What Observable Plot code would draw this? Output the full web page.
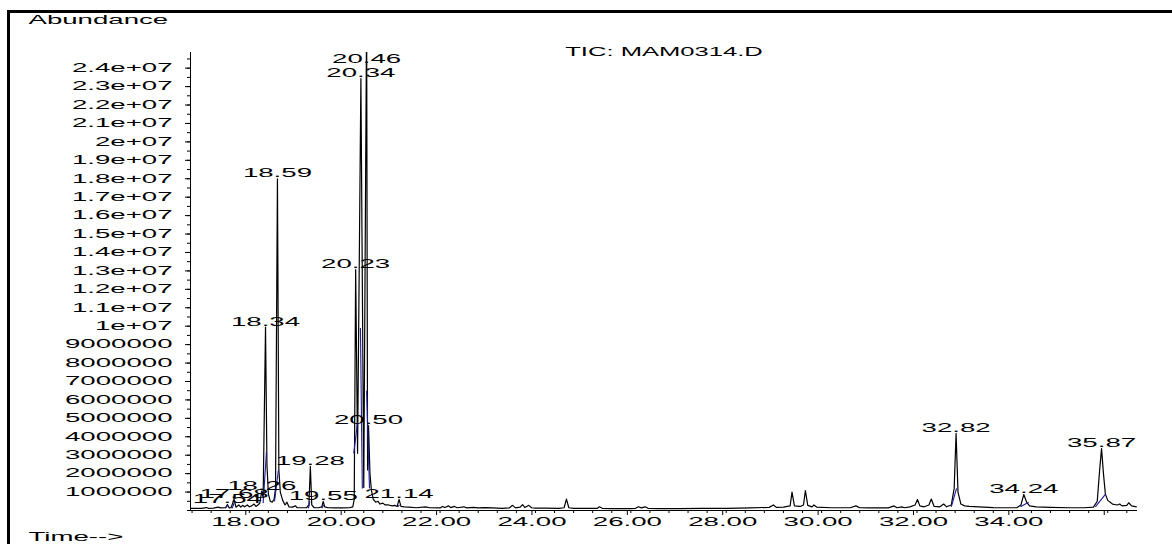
<!DOCTYPE html>
<html><head><meta charset="utf-8">
<script src="https://cdn.jsdelivr.net/npm/d3@7"></script>
<script src="https://cdn.jsdelivr.net/npm/@observablehq/plot@0.6"></script>
<style>
html,body{margin:0;padding:0;background:#fff;width:1172px;height:544px;overflow:hidden;}
#wrap{position:relative;width:1172px;height:544px;}
#chart{position:absolute;left:0;top:0;}
#border{position:absolute;left:6.5px;top:9.5px;width:1180px;height:560px;border-top:3px solid #000;border-left:3px solid #000;box-sizing:border-box;pointer-events:none;}
</style></head><body>
<div id="wrap"><div id="chart"></div><div id="border"></div></div>
<script>
// ---- Data (time in min, abundance in counts) ----
const time = [16.77,17.00,17.10,17.14,17.25,17.35,17.40,17.50,17.54,17.58,17.62,17.68,17.72,17.78,17.82,17.86,17.90,17.96,18.00,18.05,18.10,18.14,18.18,18.22,18.26,18.29,18.34,18.37,18.40,18.44,18.48,18.52,18.55,18.59,18.62,18.65,18.70,18.75,18.79,18.83,18.90,18.97,19.00,19.10,19.20,19.25,19.28,19.31,19.36,19.45,19.52,19.55,19.58,19.65,19.80,19.95,20.10,20.17,20.20,20.23,20.27,20.34,20.40,20.46,20.48,20.50,20.53,20.56,20.60,20.65,20.70,20.74,20.80,20.85,20.92,21.00,21.05,21.10,21.14,21.18,21.25,21.35,21.50,21.70,21.78,22.00,22.05,22.10,22.18,22.22,22.30,22.36,22.50,22.56,22.70,22.80,22.95,23.10,23.30,23.45,23.52,23.58,23.68,23.73,23.78,23.86,23.92,24.00,24.20,24.50,24.60,24.65,24.70,24.80,25.30,25.34,25.40,25.60,26.00,26.10,26.16,26.22,26.30,26.36,26.60,27.00,27.50,28.00,28.50,28.90,28.99,29.05,29.20,29.34,29.38,29.43,29.55,29.62,29.66,29.71,29.80,29.84,29.90,30.20,30.60,30.72,30.80,31.00,31.40,31.52,31.58,31.68,31.74,31.85,31.96,32.01,32.06,32.15,32.25,32.30,32.36,32.48,32.56,32.62,32.72,32.78,32.82,32.86,32.92,33.00,33.10,33.30,33.60,33.90,34.10,34.18,34.24,34.30,34.36,34.50,34.80,35.20,35.50,35.70,35.78,35.83,35.87,35.91,35.95,36.00,36.10,36.20,36.25,36.30,36.40,36.44,36.50,36.60];
const abundance = [0.12e6,0.12e6,0.16e6,0.12e6,0.13e6,0.18e6,0.14e6,0.15e6,0.32e6,0.14e6,0.16e6,0.62e6,0.18e6,0.30e6,0.18e6,0.28e6,0.20e6,0.30e6,0.20e6,0.25e6,0.35e6,0.22e6,0.30e6,0.40e6,1.05e6,0.70e6,9.95e6,2.5e6,0.9e6,0.5e6,0.45e6,0.6e6,1.2e6,18.0e6,2.2e6,1.0e6,0.55e6,0.3e6,0.45e6,0.2e6,0.18e6,0.25e6,0.16e6,0.15e6,0.15e6,0.3e6,2.39e6,0.3e6,0.15e6,0.15e6,0.2e6,0.5e6,0.2e6,0.15e6,0.14e6,0.14e6,0.15e6,0.2e6,0.6e6,13.07e6,3.1e6,23.44e6,1.25e6,27.0e6,2.2e6,4.6e6,2.0e6,1.1e6,0.6e6,0.45e6,0.5e6,0.35e6,0.4e6,0.3e6,0.3e6,0.25e6,0.28e6,0.22e6,0.6e6,0.22e6,0.2e6,0.18e6,0.15e6,0.2e6,0.15e6,0.14e6,0.22e6,0.16e6,0.25e6,0.16e6,0.22e6,0.15e6,0.2e6,0.14e6,0.17e6,0.14e6,0.16e6,0.14e6,0.12e6,0.14e6,0.28e6,0.14e6,0.18e6,0.32e6,0.16e6,0.28e6,0.15e6,0.13e6,0.13e6,0.12e6,0.15e6,0.62e6,0.15e6,0.12e6,0.12e6,0.2e6,0.12e6,0.1e6,0.1e6,0.12e6,0.2e6,0.14e6,0.2e6,0.12e6,0.1e6,0.1e6,0.11e6,0.12e6,0.14e6,0.17e6,0.3e6,0.17e6,0.18e6,0.25e6,1.0e6,0.25e6,0.22e6,0.3e6,1.08e6,0.28e6,0.2e6,0.3e6,0.18e6,0.15e6,0.15e6,0.25e6,0.15e6,0.14e6,0.14e6,0.25e6,0.15e6,0.2e6,0.15e6,0.2e6,0.3e6,0.6e6,0.25e6,0.2e6,0.3e6,0.62e6,0.22e6,0.2e6,0.35e6,0.2e6,0.3e6,1.2e6,4.18e6,1.0e6,0.35e6,0.25e6,0.22e6,0.2e6,0.16e6,0.15e6,0.16e6,0.3e6,0.87e6,0.45e6,0.25e6,0.2e6,0.17e6,0.15e6,0.15e6,0.18e6,0.5e6,2.2e6,3.36e6,2.0e6,0.9e6,0.55e6,0.35e6,0.3e6,0.35e6,0.25e6,0.28e6,0.42e6,0.25e6,0.2e6];

// Labelled peaks: retention time and where the label sits
const peakTimes = [17.54,17.68,18.26,18.34,18.59,19.28,19.55,20.23,20.34,20.46,20.50,21.14,32.82,34.24,35.87];
const peakLabelAbundance = [0.3e6,0.62e6,1.05e6,9.95e6,18.0e6,2.39e6,0.5e6,13.07e6,23.44e6,24.2e6,4.6e6,0.6e6,4.18e6,0.87e6,3.36e6];

// Integration baselines (blue): start time/abundance, end time/abundance
const baseStartT = [17.50,17.64,18.29,18.53,19.24,19.52,20.19,20.33,20.46,21.11,32.72,34.17,35.74];
const baseStartV = [0.12e6,0.12e6,0.4e6,0.5e6,0.12e6,0.12e6,3.1e6,9.9e6,6.5e6,0.2e6,0.2e6,0.2e6,0.2e6];
const baseEndT   = [17.55,17.69,18.36,18.61,19.27,19.56,20.27,20.37,20.52,21.15,32.83,34.34,35.95];
const baseEndV   = [0.3e6,0.45e6,3.2e6,2.2e6,0.5e6,0.3e6,4.8e6,1.2e6,1.2e6,0.3e6,1.2e6,0.45e6,0.87e6];

// Axis ticks and labels
const xTickValues = [18,20,22,24,26,28,30,32,34,36];
const xTickLabels = ["18.00","20.00","22.00","24.00","26.00","28.00","30.00","32.00","34.00",""];
const yTickValues = [1e6,2e6,3e6,4e6,5e6,6e6,7e6,8e6,9e6,1e7,1.1e7,1.2e7,1.3e7,1.4e7,1.5e7,1.6e7,1.7e7,1.8e7,1.9e7,2e7,2.1e7,2.2e7,2.3e7,2.4e7];
const yTickLabels = ["1000000","2000000","3000000","4000000","5000000","6000000","7000000","8000000","9000000","1e+07","1.1e+07","1.2e+07","1.3e+07","1.4e+07","1.5e+07","1.6e+07","1.7e+07","1.8e+07","1.9e+07","2e+07","2.1e+07","2.2e+07","2.3e+07","2.4e+07"];
const titleText = "TIC: MAM0314.D";
const yTitle = "Abundance";
const xTitle = "Time-->";

const xDomain = [16.767, 36.624];
const yDomain = [0, 24.85e6];

// ---- build ----
const trace = time.map((t, i) => ({t, v: abundance[i]}));
const peaks = peakTimes.map((t, i) => ({t, v: peakLabelAbundance[i], label: t.toFixed(2)}));
const bases = baseStartT.map((t, i) => ({x1: t, y1: baseStartV[i], x2: baseEndT[i], y2: baseEndV[i]}));
const xMinor = d3.range(16.8, 36.62, 0.4);
const yMinor = d3.range(0, 24.85e6, 5e5);
const xLab = new Map(xTickValues.map((d, i) => [d, xTickLabels[i]]));
const yLab = new Map(yTickValues.map((d, i) => [d, yTickLabels[i]]));

const FONT = "'Liberation Sans', Arial, sans-serif";
const plot = Plot.plot({
  width: 1172,
  height: 544,
  marginLeft: 190,
  marginRight: 35,
  marginTop: 52,
  marginBottom: 34,
  style: {fontFamily: FONT, fontSize: "12px", color: "#000", background: "#fff", overflow: "visible"},
  x: {domain: xDomain, label: null},
  y: {domain: yDomain, label: null},
  marks: [
    Plot.ruleY([0], {stroke: "#000", strokeWidth: 1}),
    Plot.ruleX([xDomain[0]], {stroke: "#000", strokeWidth: 1}),
    Plot.axisX(xMinor, {tickSize: 3, tickFormat: () => "", label: null, stroke: "#000"}),
    Plot.axisX(xTickValues, {tickSize: 5, tickPadding: 2, tickFormat: d => xLab.get(d), label: null, stroke: "#000", dx: -3.5, fontSize: 12}),
    Plot.axisY(yMinor, {tickSize: 3, tickFormat: () => "", label: null, stroke: "#000"}),
    Plot.axisY(yTickValues, {tickSize: 5, tickPadding: 13, tickFormat: d => yLab.get(d), label: null, stroke: "#000", fontSize: 12}),
    Plot.line(trace, {x: "t", y: "v", stroke: "#000", strokeWidth: 1.2, clip: true}),
    Plot.link(bases, {x1: "x1", y1: "y1", x2: "x2", y2: "y2", stroke: "#1c1c9c", strokeWidth: 1.1, clip: true}),
    Plot.text(peaks, {x: "t", y: "v", text: "label", textAnchor: "middle", lineAnchor: "bottom", dy: -1.5, fontSize: 12, fill: "#000"}),
    Plot.text([titleText], {frameAnchor: "top", lineAnchor: "bottom", dy: 3, fontSize: 12, fill: "#000"}),
    Plot.text([yTitle], {frameAnchor: "top-left", textAnchor: "start", lineAnchor: "bottom", dx: -162, dy: -29, fontSize: 12, fill: "#000"}),
    Plot.text([xTitle], {frameAnchor: "bottom-left", textAnchor: "start", lineAnchor: "bottom", dx: -162, dy: 30, fontSize: 12, fill: "#000"})
  ]
});
document.getElementById("chart").append(plot);

// Stretch text horizontally, as in the original instrument print-out
plot.querySelectorAll("text").forEach(t => {
  const L = t.getComputedTextLength();
  const sx = t.textContent === titleText ? 2.13 : 2.3;
  if (L > 0) {
    t.setAttribute("textLength", (L * sx).toFixed(1));
    t.setAttribute("lengthAdjust", "spacingAndGlyphs");
  }
});
</script>
</body></html>
